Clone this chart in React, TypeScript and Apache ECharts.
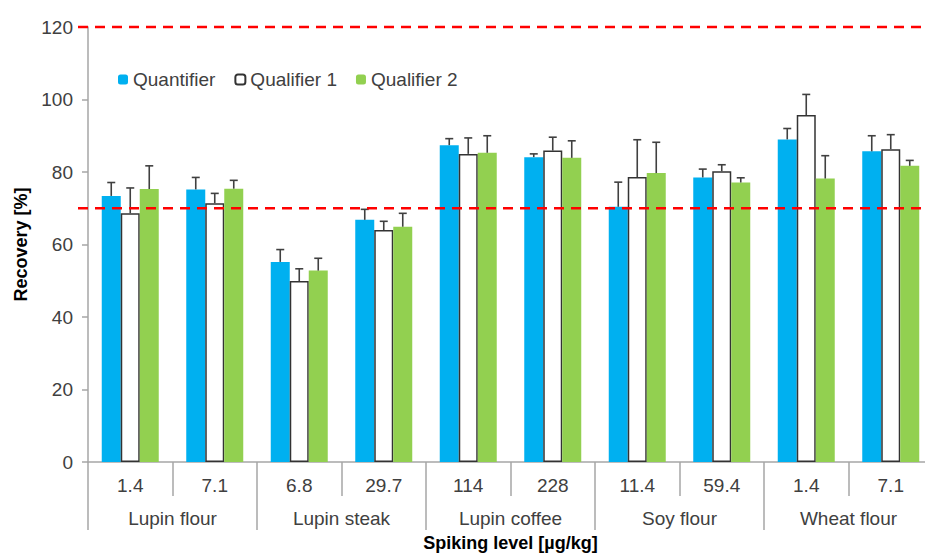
import React, { useEffect, useRef } from "react";
import * as echarts from "echarts";

const levels = ["1.4", "7.1", "6.8", "29.7", "114", "228", "11.4", "59.4", "1.4", "7.1"];
const matrices = ["Lupin flour", "Lupin steak", "Lupin coffee", "Soy flour", "Wheat flour"];

const quantifier = [73.4, 75.2, 55.2, 66.8, 87.4, 84.1, 70.4, 78.5, 89.0, 85.7];
const quantifierSd = [3.7, 3.3, 3.4, 2.9, 1.8, 0.9, 6.8, 2.3, 3.0, 4.3];
const qualifier1 = [68.6, 71.4, 49.9, 64.0, 85.0, 85.9, 78.6, 80.2, 95.7, 86.3];
const qualifier1Sd = [7.0, 2.7, 3.4, 2.4, 4.4, 3.7, 10.3, 1.8, 5.7, 4.0];
const qualifier2 = [75.3, 75.4, 52.8, 64.9, 85.3, 83.9, 79.7, 77.1, 78.2, 81.7];
const qualifier2Sd = [6.4, 2.3, 3.4, 3.7, 4.7, 4.7, 8.5, 1.3, 6.3, 1.5];

const refLines = [70, 120];
const yTicks = { min: 0, max: 120, interval: 20 };

const FONT = "Arial, 'Liberation Sans', sans-serif";
const TXT = "#404040";
const AX = "#a6a6a6";
const BAR_W = 19;

function errSeries(name: string, vals: number[], sds: number[], offset: number) {
  return {
    type: "custom",
    name: name + " SD",
    z: 5,
    silent: true,
    data: vals.map((v, i) => [i, v, v + sds[i]]),
    encode: { x: 0, y: [1, 2] },
    renderItem: (params: any, api: any) => {
      const x = api.value(0);
      const base = api.coord([x, api.value(1)]);
      const top = api.coord([x, api.value(2)]);
      const cx = base[0] + offset;
      const st = { stroke: "#404040", lineWidth: 1.6 };
      return {
        type: "group",
        children: [
          { type: "line", shape: { x1: cx, y1: base[1], x2: cx, y2: top[1] }, style: st },
          { type: "line", shape: { x1: cx - 4, y1: top[1], x2: cx + 4, y2: top[1] }, style: st },
        ],
      };
    },
  };
}

export default function App() {
  const ref = useRef<HTMLDivElement>(null);
  useEffect(() => {
    if (!ref.current) return;
    const chart = echarts.init(ref.current, undefined, { renderer: "svg" });
    const option: any = {
      animation: false,
      grid: {
        left: 88,
        top: 27,
        width: 845,
        height: 435,
        containLabel: false,
        outerBoundsMode: "none",
      },
      legend: {
        left: 118,
        top: 70,
        padding: 0,
        itemWidth: 10,
        itemHeight: 10,
        itemGap: 19,
        textStyle: { fontFamily: FONT, fontSize: 19, color: TXT },
        data: ["Quantifier", "Qualifier 1", "Qualifier 2"],
      },
      xAxis: [
        {
          type: "category",
          data: levels,
          position: "bottom",
          axisLine: { show: true, lineStyle: { color: AX, width: 1.5 } },
          axisTick: { show: true, length: 34, lineStyle: { color: AX, width: 1.5 } },
          axisLabel: { fontFamily: FONT, fontSize: 19, color: TXT, margin: 14 },
        },
        {
          type: "category",
          data: matrices,
          position: "bottom",
          offset: 34,
          axisLine: { show: false },
          axisTick: { show: true, length: 34, lineStyle: { color: AX, width: 1.5 } },
          axisLabel: { fontFamily: FONT, fontSize: 19, color: TXT, margin: 13 },
          name: "Spiking level [µg/kg]",
          nameLocation: "middle",
          nameGap: 38,
          nameTextStyle: { fontFamily: FONT, fontSize: 18, fontWeight: "bold", color: "#000" },
        },
      ],
      yAxis: {
        type: "value",
        min: yTicks.min,
        max: yTicks.max,
        interval: yTicks.interval,
        splitLine: { show: false },
        axisLine: { show: true, lineStyle: { color: AX, width: 1.5 } },
        axisTick: { show: true, length: 6, lineStyle: { color: AX, width: 1.5 } },
        axisLabel: { fontFamily: FONT, fontSize: 19, color: TXT, margin: 15 },
        name: "Recovery [%]",
        nameLocation: "middle",
        nameGap: 58,
        nameTextStyle: { fontFamily: FONT, fontSize: 18, fontWeight: "bold", color: "#000" },
      },
      series: [
        {
          type: "bar",
          name: "Quantifier",
          data: quantifier,
          barWidth: BAR_W,
          barGap: "0%",
          itemStyle: { color: "#00b0f0" },
        },
        {
          type: "bar",
          name: "Qualifier 1",
          data: qualifier1,
          barWidth: BAR_W,
          barGap: "0%",
          itemStyle: { color: "#ffffff", borderColor: "#333333", borderWidth: 1.5 },
        },
        {
          type: "bar",
          name: "Qualifier 2",
          data: qualifier2,
          barWidth: BAR_W,
          barGap: "0%",
          itemStyle: { color: "#92d050" },
        },
        errSeries("Quantifier", quantifier, quantifierSd, -BAR_W),
        errSeries("Qualifier 1", qualifier1, qualifier1Sd, 0),
        errSeries("Qualifier 2", qualifier2, qualifier2Sd, BAR_W),
      ],
    };
    chart.setOption(option);
    const graphic = refLines.map((v) => {
      const y = chart.convertToPixel({ yAxisIndex: 0 }, v) as number;
      return {
        type: "line",
        z: 10,
        shape: { x1: 78, y1: y, x2: 925, y2: y },
        style: { stroke: "#ff0000", lineWidth: 2.5, lineDash: [10, 7] },
      };
    });
    chart.setOption({ graphic });
    return () => chart.dispose();
  }, []);
  return (
    <div
      ref={ref}
      style={{ position: "absolute", left: 0, top: 0, width: 925, height: 553, background: "#fff" }}
    />
  );
}
